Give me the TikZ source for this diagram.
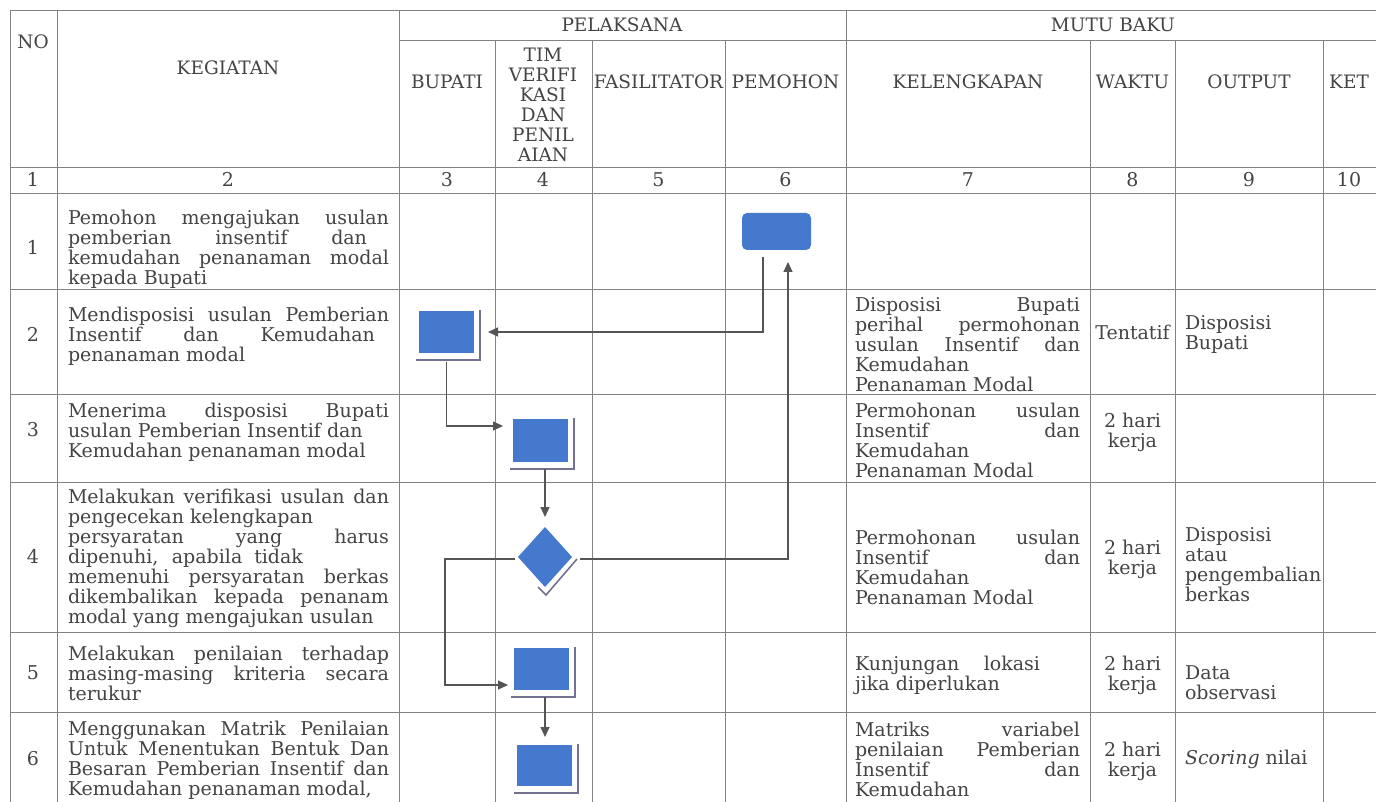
\documentclass[tikz,border=0pt]{standalone}
\usepackage{fontspec}
\setmainfont{DejaVu Serif}
\usetikzlibrary{arrows.meta,calc,shapes.geometric}
\definecolor{txt}{RGB}{68,68,68}
\definecolor{gridcol}{RGB}{130,130,130}
\definecolor{blu}{RGB}{68,121,206}
\definecolor{shd}{RGB}{115,115,145}
\definecolor{linecol}{RGB}{85,85,85}
\newcommand\J[2][321pt]{\makebox[#1][s]{#2}}
\newcommand\K[1]{\makebox[225pt][s]{#1}}
\begin{document}
\begin{tikzpicture}[x=1pt,y=-1pt,
  every node/.style={inner sep=0pt,outer sep=0pt,text=txt,font=\fontsize{19}{20}\selectfont},
  gridline/.style={draw=gridcol,line width=0.9pt},
  cell/.style={anchor=north west,align=left},
  wcell/.style={anchor=north,align=center},
  hdr/.style={anchor=center,align=center,font=\fontsize{18.5}{20}\selectfont},
  num/.style={anchor=base},
  proc/.style={fill=blu,minimum width=55pt,minimum height=42pt},
  shadowline/.style={draw=shd,line width=1.6pt},
  flow/.style={draw=linecol,line width=1.2pt,-{Triangle[length=10pt,width=9pt]}},
]
\fill[white] (0,0) rectangle (1376,802);
\useasboundingbox (0,0) rectangle (1376,802);

% grid
\draw[gridline] (10,10) -- (1380,10);
\draw[gridline] (399,40) -- (1380,40);
\foreach \yy in {167,193,289,394,482,632,712}
  \draw[gridline] (10,\yy) -- (1380,\yy);
\foreach \xx in {10,57,399,846}
  \draw[gridline] (\xx,10) -- (\xx,802);
\foreach \xx in {495,592,725,1090,1175,1323}
  \draw[gridline] (\xx,40) -- (\xx,802);

% header
\node[hdr] (hno) at (33,42) {NO};
\node[hdr] (hkeg) at (228,68) {KEGIATAN};
\node[hdr] (hpel) at (622,25) {PELAKSANA};
\node[hdr] (hmutu) at (1113,25) {MUTU BAKU};
\node[hdr] (hbup) at (447,82) {BUPATI};
\node[hdr,anchor=north] (htim) at (543,48.5) {TIM\\VERIFI\\KASI\\DAN\\PENIL\\AIAN};
\node[hdr] (hfas) at (658.5,82) {FASILITATOR};
\node[hdr] (hpem) at (785.5,82) {PEMOHON};
\node[hdr] (hkel) at (968,82) {KELENGKAPAN};
\node[hdr] (hwak) at (1132.5,82) {WAKTU};
\node[hdr] (hout) at (1249,82) {OUTPUT};
\node[hdr] (hket) at (1349,82) {KET};

% column numbers
\node[num] (c1) at (33,186.5) {1};
\node[num] (c2) at (228,186.5) {2};
\node[num] (c3) at (447,186.5) {3};
\node[num] (c4) at (543,186.5) {4};
\node[num] (c5) at (658.5,186.5) {5};
\node[num] (c6) at (785.5,186.5) {6};
\node[num] (c7) at (968,186.5) {7};
\node[num] (c8) at (1132.5,186.5) {8};
\node[num] (c9) at (1249,186.5) {9};
\node[num] (c10) at (1349,186.5) {10};

% row numbers
\node[num] (r1) at (33,254.5) {1};
\node[num] (r2) at (33,341.5) {2};
\node[num] (r3) at (33,436.5) {3};
\node[num] (r4) at (33,563.5) {4};
\node[num] (r5) at (33,679.5) {5};
\node[num] (r6) at (33,765.5) {6};

% kegiatan
\node[cell] (k1) at (68,210) {\J{Pemohon mengajukan usulan}\\\J[299pt]{pemberian insentif dan}\\\J{kemudahan penanaman modal}\\kepada Bupati};
\node[cell] (k2) at (68,307) {\J{Mendisposisi usulan Pemberian}\\\J[307pt]{Insentif dan Kemudahan}\\penanaman modal};
\node[cell] (k3) at (68,403) {\J{Menerima disposisi Bupati}\\usulan Pemberian Insentif dan\\Kemudahan penanaman modal};
\node[cell] (k4) at (68,489) {\J{Melakukan verifikasi usulan dan}\\pengecekan kelengkapan\\\J{persyaratan yang harus}\\\J[235pt]{dipenuhi, apabila tidak}\\\J{memenuhi persyaratan berkas}\\\J{dikembalikan kepada penanam}\\modal yang mengajukan usulan};
\node[cell] (k5) at (68,646) {\J{Melakukan penilaian terhadap}\\\J{masing-masing kriteria secara}\\terukur};
\node[cell] (k6) at (68,721) {\J{Menggunakan Matrik Penilaian}\\\J{Untuk Menentukan Bentuk Dan}\\\J{Besaran Pemberian Insentif dan}\\Kemudahan penanaman modal,};

% kelengkapan
\node[cell] (l2) at (855,298) {\K{Disposisi Bupati}\\\K{perihal permohonan}\\\K{usulan Insentif dan}\\Kemudahan\\Penanaman Modal};
\node[cell] (l3) at (855,403) {\K{Permohonan usulan}\\\K{Insentif dan}\\Kemudahan\\Penanaman Modal};
\node[cell] (l4) at (855,530) {\K{Permohonan usulan}\\\K{Insentif dan}\\Kemudahan\\Penanaman Modal};
\node[cell] (l5) at (855,656) {\makebox[185pt][s]{Kunjungan lokasi}\\jika diperlukan};
\node[cell] (l6) at (855,722) {\K{Matriks variabel}\\\K{penilaian Pemberian}\\\K{Insentif dan}\\Kemudahan};

% waktu
\node[num] (w2) at (1132.5,339.5) {Tentatif};
\node[wcell] (w3) at (1132.5,413) {2 hari\\kerja};
\node[wcell] (w4) at (1132.5,540) {2 hari\\kerja};
\node[wcell] (w5) at (1132.5,656) {2 hari\\kerja};
\node[wcell] (w6) at (1132.5,742) {2 hari\\kerja};

% output
\node[cell] (o2) at (1185,316) {Disposisi\\Bupati};
\node[cell] (o4) at (1185,528) {Disposisi\\atau\\pengembalian\\berkas};
\node[cell] (o5) at (1185,666) {Data\\observasi};
\node[anchor=base west] (o6) at (1185,764.5) {\textit{Scoring} nilai};

% flow shapes
\node[proc,rounded corners=5pt,minimum width=69pt,minimum height=37pt] (p1) at (776.5,231.5) {};
\node[proc] (b2) at (446.5,332) {};
\node[proc,minimum height=43pt] (t3) at (540.5,440.5) {};
\node[diamond,fill=blu,minimum width=54pt,minimum height=60pt] (d4) at (545,557) {};
\node[proc] (q5) at (541.5,669) {};
\node[proc,minimum height=41pt] (q6) at (544.5,765.5) {};

% shadows
\foreach \n in {b2,t3,q5,q6}
  \draw[shadowline] ($(\n.south west)+(-3,7)$) -| ($(\n.north east)+(6,-1)$);
\draw[shadowline] ($(d4.east)+(5,2)$) -- ($(d4.south)+(1,8)$) -- ($(d4.south)+(-7,0)$);

% connectors
\draw[flow] ($(p1.south)+(-13.5,7)$) |- ($(b2.east)+(14,0)$);
\draw[flow] ($(b2.south)+(0,9)$) |- ($(t3.west)+(-10,-14.5)$);
\draw[flow] ($(t3.south)+(4.5,7)$) -- ($(d4.north)+(0,-10)$);
\draw[flow] ($(d4.east)+(8,2)$) -| ($(p1.south)+(11.5,12)$);
\draw[flow] ($(d4.west)+(-3,2)$) -| ($(q5.west)+(-69,16)$) -- ($(q5.west)+(-6,16)$);
\draw[flow] ($(q5.south)+(3.5,7)$) -- ($(q6.north)+(0.5,-8)$);
\end{tikzpicture}
\end{document}
